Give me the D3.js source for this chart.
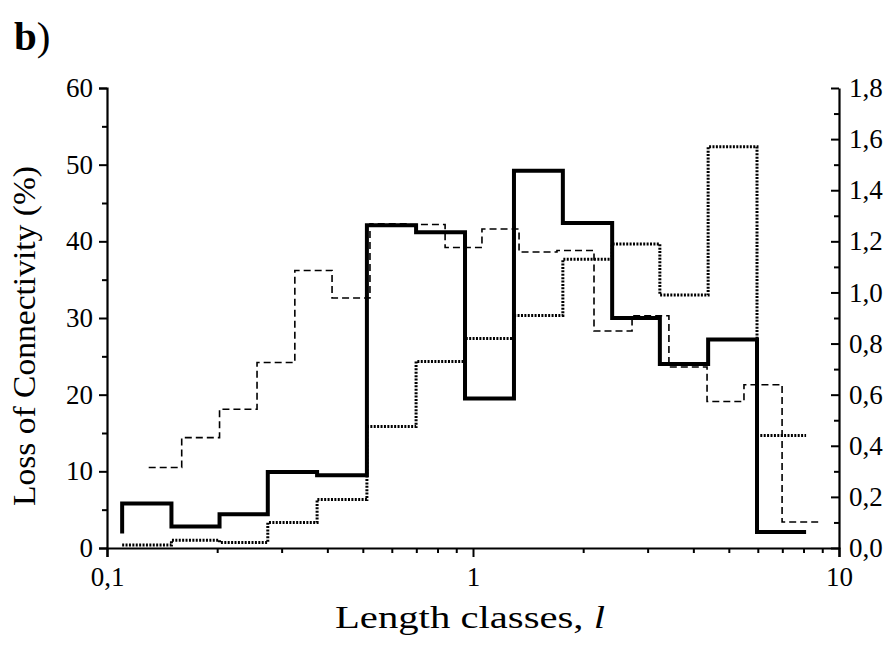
<!DOCTYPE html>
<html>
<head>
<meta charset="utf-8">
<script src="https://cdn.jsdelivr.net/npm/d3@7"></script>
<style>
  html, body { margin: 0; padding: 0; background: #fff; }
  svg { display: block; }
  svg text { font-family: "Liberation Serif", "Times New Roman", Times, "DejaVu Serif", serif !important; fill: #000; }
</style>
</head>
<body>
<svg id="chart" width="896" height="648"></svg>
<script>
// ---- Data ----
// Solid (thick) series: left axis, bin edges and values
const solidEdges = [0.110, 0.150, 0.203, 0.275, 0.375, 0.513, 0.699, 0.951, 1.294, 1.76, 2.40, 3.24, 4.39, 5.97, 8.13];
const solidValues = [5.8, 2.8, 4.4, 9.9, 9.5, 42.1, 41.2, 19.5, 49.2, 42.4, 30.0, 24.0, 27.2, 2.1];
const solidStart = 1.9;

// Dotted series: right axis, same bins as the solid one
const dottedEdges = [0.110, 0.150, 0.203, 0.275, 0.375, 0.513, 0.699, 0.951, 1.294, 1.76, 2.40, 3.24, 4.39, 5.97, 8.13];
const dottedValues = [0.012, 0.03, 0.022, 0.10, 0.19, 0.475, 0.73, 0.82, 0.91, 1.13, 1.19, 0.99, 1.57, 0.44];

// Dashed (thin) series: left axis, finer bins
const dashedEdges = [0.130, 0.160, 0.203, 0.257, 0.326, 0.412, 0.523, 0.660, 0.839, 1.058, 1.336, 1.696, 2.141, 2.72, 3.43, 4.36, 5.50, 6.99, 8.82];
const dashedValues = [10.5, 14.4, 18.1, 24.2, 36.2, 32.6, 42.3, 42.2, 39.2, 41.6, 38.6, 38.8, 28.3, 30.3, 23.6, 19.1, 21.3, 3.4];

// Axis ticks
const xMajorTicks = [0.1, 1, 10];
const xTickLabels = ["0,1", "1", "10"];
const xMinorTicks = [0.2, 0.3, 0.4, 0.5, 0.6, 0.7, 0.8, 0.9, 2, 3, 4, 5, 6, 7, 8, 9];
const yLeftTicks = [0, 10, 20, 30, 40, 50, 60];
const yLeftMinor = [5, 15, 25, 35, 45, 55];
const yRightTicks = [0, 0.2, 0.4, 0.6, 0.8, 1.0, 1.2, 1.4, 1.6, 1.8];
const yRightMinor = [0.1, 0.3, 0.5, 0.7, 0.9, 1.1, 1.3, 1.5, 1.7];

const panelLabel = "b";
const panelParen = ")";
const xTitle = "Length classes, ";
const xTitleItalic = "l";
const yTitle = "Loss of Connectivity (%)";

// ---- Layout ----
const svg = d3.select("#chart");
const L = 107, R = 839, T = 88, B = 548;
const FONT = '"Liberation Serif", "Times New Roman", Times, "DejaVu Serif", serif';

const x = d3.scaleLog().domain([0.1, 10]).range([L, R]);
const yL = d3.scaleLinear().domain([0, 60]).range([B, T]);
const yR = d3.scaleLinear().domain([0, 1.8]).range([B, T]);

function stepPoints(edges, values, start) {
  const pts = [];
  if (start !== undefined) pts.push([edges[0], start]);
  values.forEach((v, i) => pts.push([edges[i], v]));
  pts.push([edges[edges.length - 1], values[values.length - 1]]);
  return pts;
}

const lineL = d3.line().x(d => x(d[0])).y(d => yL(d[1])).curve(d3.curveStepAfter);
const lineR = d3.line().x(d => x(d[0])).y(d => yR(d[1])).curve(d3.curveStepAfter);

// Dashed
svg.append("path")
  .attr("d", lineL(stepPoints(dashedEdges, dashedValues)))
  .attr("fill", "none").attr("stroke", "#000")
  .attr("stroke-width", 1.6).attr("stroke-dasharray", "7,4");

// Dotted
svg.append("path")
  .attr("d", lineR(stepPoints(dottedEdges, dottedValues)))
  .attr("fill", "none").attr("stroke", "#000")
  .attr("stroke-width", 3).attr("stroke-dasharray", "2,1.4");

// Solid
svg.append("path")
  .attr("d", lineL(stepPoints(solidEdges, solidValues, solidStart)))
  .attr("fill", "none").attr("stroke", "#000")
  .attr("stroke-width", 4).attr("stroke-linejoin", "miter");

// ---- Axes ----
const fmtR = d => d.toFixed(1).replace(".", ",");

// Bottom axis
const gx = svg.append("g").attr("transform", `translate(0,${B})`);
gx.call(d3.axisBottom(x).tickValues(xMajorTicks).tickSize(9)
  .tickFormat((d, i) => xTickLabels[i]).tickPadding(10));
gx.append("g").call(d3.axisBottom(x).tickValues(xMinorTicks).tickSize(5).tickFormat(""))
  .select(".domain").remove();

// Left axis
const gl = svg.append("g").attr("transform", `translate(${L},0)`);
gl.call(d3.axisLeft(yL).tickValues(yLeftTicks).tickSize(8).tickPadding(6));
gl.append("g").call(d3.axisLeft(yL).tickValues(yLeftMinor).tickSize(5).tickFormat(""))
  .select(".domain").remove();

// Right axis (ticks inward, labels outside)
const gr = svg.append("g").attr("transform", `translate(${R},0)`);
gr.call(d3.axisRight(yR).tickValues(yRightTicks).tickSizeInner(-8).tickSizeOuter(0)
  .tickFormat(fmtR).tickPadding(10));
gr.append("g").call(d3.axisRight(yR).tickValues(yRightMinor).tickSizeInner(-5).tickSizeOuter(0).tickFormat(""))
  .select(".domain").remove();

svg.selectAll("g").attr("font-family", FONT);
svg.selectAll(".domain").attr("stroke", "#000").attr("stroke-width", 2.2);
svg.selectAll(".tick line").attr("stroke", "#000").attr("stroke-width", 2);
svg.selectAll(".tick text")
  .attr("font-family", FONT)
  .attr("font-size", 27).attr("fill", "#000");

// ---- Titles ----
const pl = svg.append("text").attr("x", 14).attr("y", 50)
  .attr("font-family", FONT).attr("font-size", 41);
pl.append("tspan").attr("font-weight", "bold").text(panelLabel);
pl.append("tspan").text(panelParen);

const xt = svg.append("text").attr("x", 470).attr("y", 628)
  .attr("text-anchor", "middle").attr("font-family", FONT).attr("font-size", 32)
  .attr("textLength", 270).attr("lengthAdjust", "spacingAndGlyphs");
xt.append("tspan").text(xTitle);
xt.append("tspan").attr("font-style", "italic").text(xTitleItalic);

svg.append("text")
  .attr("transform", `translate(35,336) rotate(-90)`)
  .attr("text-anchor", "middle").attr("font-family", FONT).attr("font-size", 31)
  .attr("textLength", 340).attr("lengthAdjust", "spacingAndGlyphs").text(yTitle);
</script>
</body>
</html>
